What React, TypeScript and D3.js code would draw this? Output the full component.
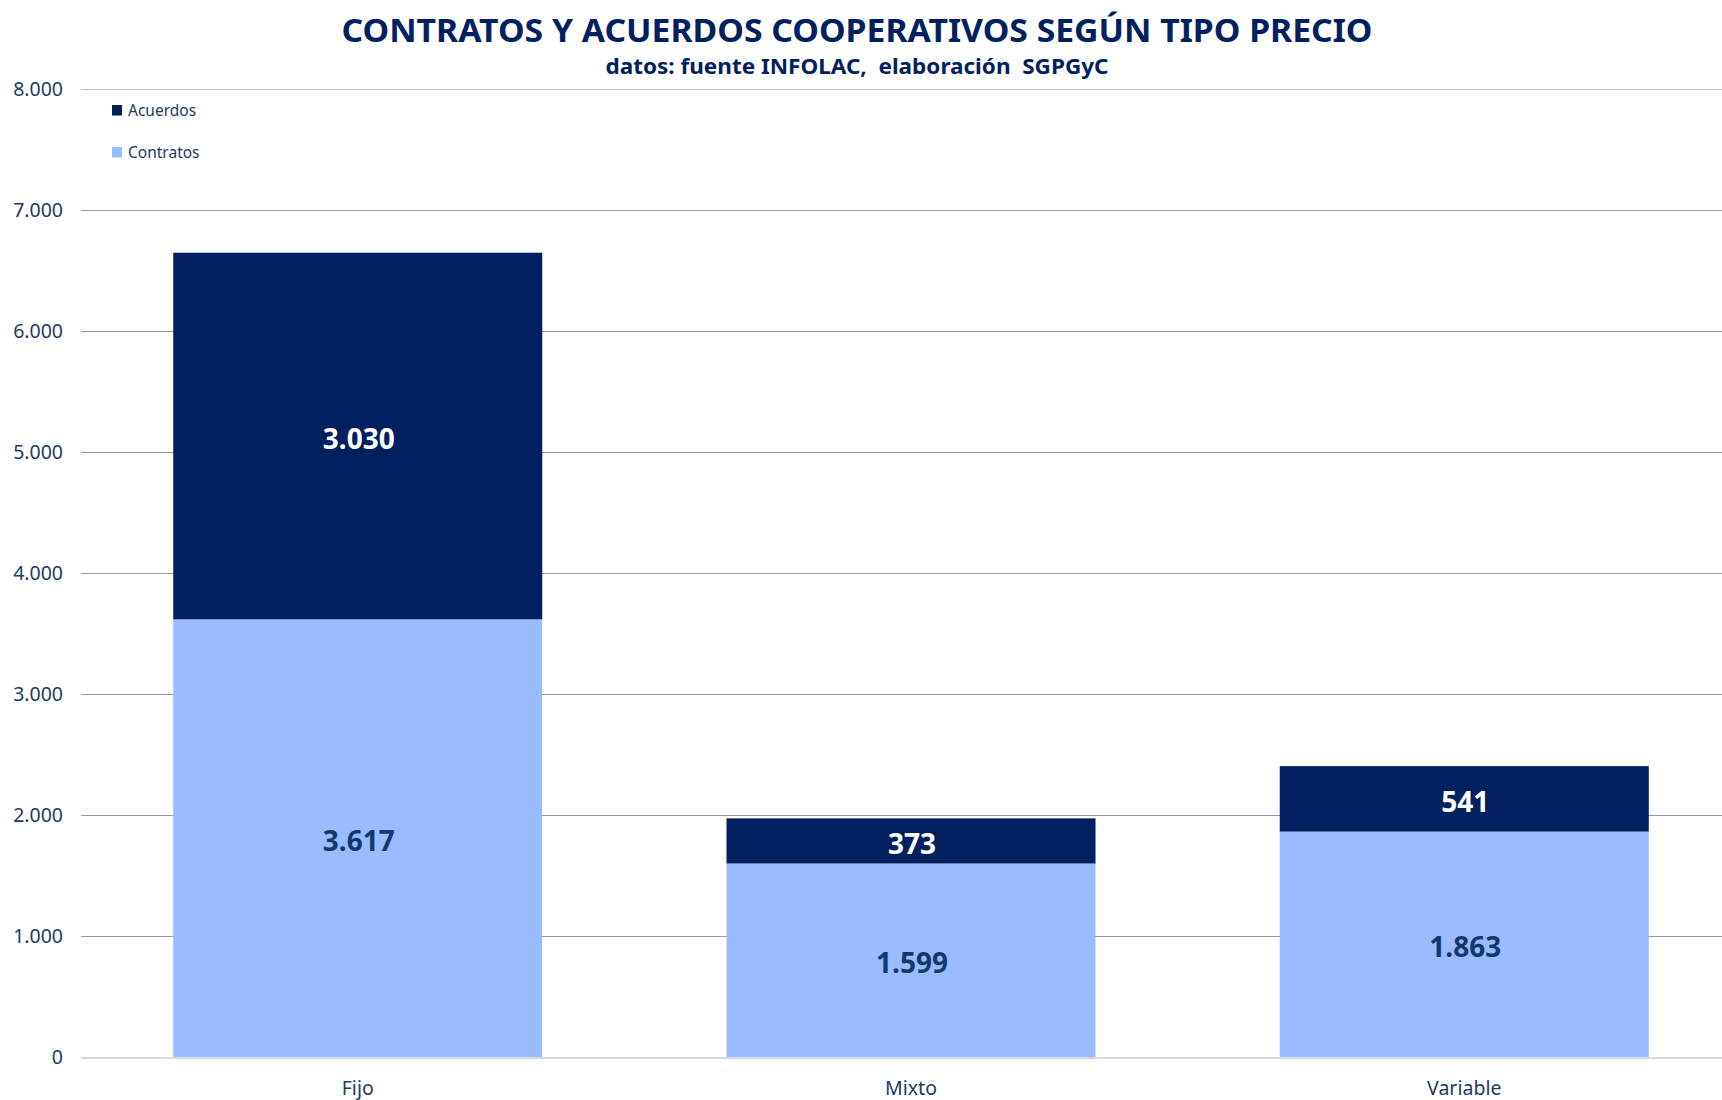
import React from "react";
import * as d3 from "d3";

const categories = ["Fijo", "Mixto", "Variable"];
const contratos = [3617, 1599, 1863];
const acuerdos = [3030, 373, 541];
const seriesNames = ["Contratos", "Acuerdos"];
const yTicks = [0, 1000, 2000, 3000, 4000, 5000, 6000, 7000, 8000];

const W = 1722;
const H = 1100;
const FONT = "'Noto Sans', 'Open Sans', sans-serif";
const NAVY = "#002060";
const LIGHT = "#99BBFF";
const TXT = "#1F3A64";

const fmt = (v: number) => {
  const s = String(Math.round(v));
  return s.replace(/\B(?=(\d{3})+(?!\d))/g, ".");
};

export default function App() {
  const x = d3
    .scaleBand<string>()
    .domain(categories)
    .range([81, 1741])
    .paddingInner(0.333)
    .paddingOuter(0.1667);
  const y = d3.scaleLinear().domain([0, 8000]).range([1057, 89]);

  const rows = categories.map((c, i) => ({ cat: c, Contratos: contratos[i], Acuerdos: acuerdos[i] }));
  const stack = d3.stack<any>().keys(seriesNames)(rows);
  const colors: Record<string, string> = { Contratos: LIGHT, Acuerdos: NAVY };
  const labelColors: Record<string, string> = { Contratos: "#0E3A6E", Acuerdos: "#FFFFFF" };

  return (
    <svg width={W} height={H} style={{ position: "absolute", left: 0, top: 0, background: "#fff" }}>
      <rect x={0} y={0} width={W} height={H} fill="#fff" />
      {/* gridlines */}
      {yTicks.map((t) =>
        t === 0 ? null : (
          <line key={t} x1={81} x2={W} y1={Math.round(y(t)) + 0.5} y2={Math.round(y(t)) + 0.5}
            stroke={t === 8000 ? "#B4C2D6" : "#8A9CBC"} strokeWidth={1.2} />
        )
      )}
      {/* bars */}
      {stack.map((s) =>
        s.map((d, i) => (
          <rect key={s.key + i} x={x(categories[i])} width={x.bandwidth()}
            y={y(d[1])} height={y(d[0]) - y(d[1])} fill={colors[s.key]} />
        ))
      )}
      {/* baseline */}
      <line x1={81} x2={W} y1={y(0) + 1} y2={y(0) + 1} stroke="#D9D9D9" strokeWidth={2} />
      {/* labels */}
      {stack.map((s) =>
        s.map((d, i) => (
          <text key={"l" + s.key + i} x={(x(categories[i]) as number) + x.bandwidth() / 2 + 1}
            y={(y(d[0]) + y(d[1])) / 2 + 13} textAnchor="middle" fontFamily={FONT}
            fontWeight={700} fontSize={28} fill={labelColors[s.key]}>
            {fmt(d[1] - d[0])}
          </text>
        ))
      )}
      {/* y axis labels */}
      {yTicks.map((t) => (
        <text key={"y" + t} x={63} y={y(t) + 7} textAnchor="end" fontFamily={FONT} fontSize={19.5} fill={TXT}>
          {fmt(t)}
        </text>
      ))}
      {/* x axis labels */}
      {categories.map((c) => (
        <text key={"x" + c} x={(x(c) as number) + x.bandwidth() / 2} y={1095} textAnchor="middle"
          fontFamily={FONT} fontSize={19.5} fill={TXT}>
          {c}
        </text>
      ))}
      {/* legend */}
      {["Acuerdos", "Contratos"].map((n, i) => (
        <g key={n} transform={`translate(112, ${105 + i * 42})`}>
          <rect x={0} y={0} width={10} height={10.5} fill={colors[n]} />
          <text x={16} y={11} fontFamily={FONT} fontSize={15.5} fill={TXT}>{n}</text>
        </g>
      ))}
      {/* title */}
      <text x={857} y={42} textAnchor="middle" fontFamily={FONT} fontWeight={700} fontSize={32} fill={NAVY}
        textLength={1031} lengthAdjust="spacingAndGlyphs">
        CONTRATOS Y ACUERDOS COOPERATIVOS SEGÚN TIPO PRECIO
      </text>
      <text x={857} y={74} textAnchor="middle" fontFamily={FONT} fontWeight={700} fontSize={22} fill={NAVY}
        textLength={503} lengthAdjust="spacingAndGlyphs" style={{ whiteSpace: "pre" }}>
        {"datos: fuente INFOLAC,  elaboración  SGPGyC"}
      </text>
    </svg>
  );
}
